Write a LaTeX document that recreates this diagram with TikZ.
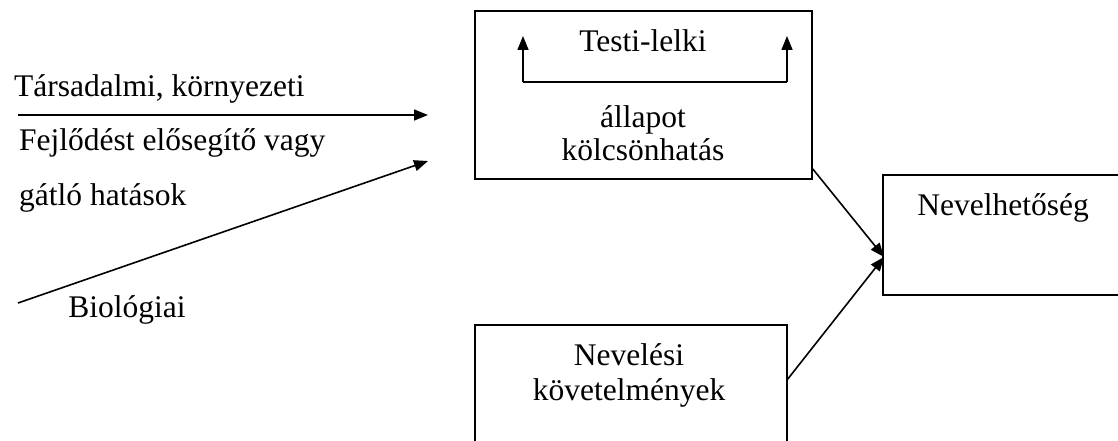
\documentclass[tikz,border=0pt]{standalone}
\usepackage{fontspec}
\setmainfont{Liberation Serif}
\usetikzlibrary{arrows.meta}
\begin{document}
\begin{tikzpicture}[x=1pt,y=-1pt,
  every node/.style={font=\fontsize{31.5}{36}\selectfont, inner sep=0pt},
  boxnode/.style={draw, line width=1.6pt, rectangle},
  conn/.style={line width=1.6pt},
  arr/.style={conn, -{Triangle[length=14pt,width=11pt]}}]
\clip (0,0) rectangle (1118,441);
\fill[white] (0,0) rectangle (1118,441);
% boxes
\node[boxnode, minimum width=337pt, minimum height=168pt] (top) at (643.5,95) {};
\node[boxnode, minimum width=250pt, minimum height=120pt] (nev) at (1008,235) {};
\node[boxnode, minimum width=312pt, minimum height=140pt] (bot) at (631,395) {};
% texts
\node[anchor=base] (tl) at (643,52) {Testi-lelki};
\node[anchor=base] (all) at (643,128) {állapot};
\node[anchor=base] (kol) at (643,160) {kölcsönhatás};
\node[anchor=base] (nevt) at (1003,215) {Nevelhetőség};
\node[anchor=base] (nvt) at (629,365) {Nevelési};
\node[anchor=base] (kov) at (629,400) {követelmények};
\node[anchor=base west] (tars) at (14,97) {Társadalmi, környezeti};
\node[anchor=base west] (fej) at (19,150) {Fejlődést elősegítő vagy};
\node[anchor=base west] (gat) at (19,205) {gátló hatások};
\node[anchor=base] (bio) at (127,317) {Biológiai};
% inner arrows
\coordinate (il) at (523,82);
\coordinate (ir) at (787,82);
\coordinate (ilt) at (523,36);
\coordinate (irt) at (787,36);
\draw[conn] (il) -- (ir);
\draw[arr] (il) -- (ilt);
\draw[arr] (ir) -- (irt);
% left arrows
\coordinate (h0) at (18,115);
\coordinate (h1) at (428,115);
\coordinate (d0) at (18,303);
\coordinate (d1) at (428,161);
\draw[arr] (h0) -- (h1);
\draw[arr] (d0) -- (d1);
% to Nevelhetoseg
\coordinate (tip) at (884,257);
\coordinate (s1) at (812,168);
\coordinate (s2) at (787,380);
\draw[arr] (s1) -- (tip);
\draw[arr] (s2) -- (tip);
\end{tikzpicture}
\end{document}
